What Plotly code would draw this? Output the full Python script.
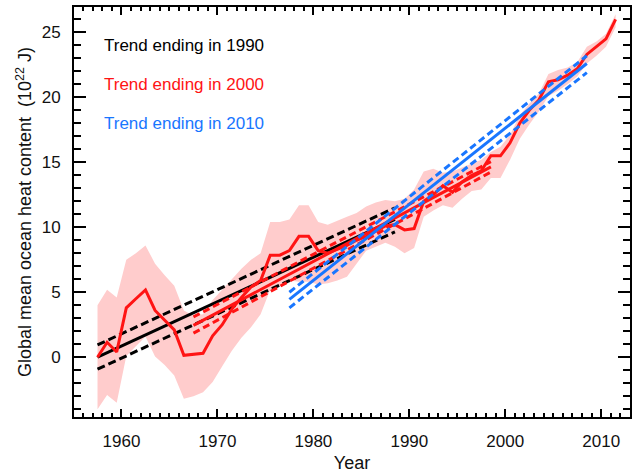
import plotly.graph_objects as go

# Annual global mean ocean heat content (10^22 J), mid-year time stamps
years = [1957.5 + i for i in range(55)]
ohc = [0.0, 1.15, 0.4, 3.8, 4.5, 5.18, 3.6, 2.85, 2.1, 0.15,
       0.2, 0.3, 1.65, 2.5, 3.7, 4.6, 5.4, 5.9, 7.85, 7.85,
       8.2, 9.3, 9.3, 8.2, 8.0, 8.3, 8.6, 9.0, 9.3, 9.7,
       10.1, 10.2, 9.8, 9.9, 12.0, 12.5, 13.2, 12.7, 13.5, 14.0,
       14.35, 15.5, 15.5, 16.5, 18.0, 19.0, 19.8, 21.2, 21.35, 21.7,
       22.2, 23.3, 23.9, 24.5, 26.0]
ohc_upper = [4.0, 5.2, 4.6, 7.5, 8.0, 8.6, 7.2, 6.3, 5.5, 3.6,
             3.2, 3.3, 4.4, 5.2, 6.0, 6.8, 7.5, 8.0, 10.4, 10.4,
             10.6, 11.7, 11.7, 10.4, 10.2, 10.5, 10.8, 11.1, 11.6, 11.9,
             12.1, 12.0, 12.2, 12.9, 14.3, 14.5, 14.2, 14.3, 14.6, 14.9,
             15.2, 15.8, 16.2, 17.1, 18.6, 19.5, 20.3, 21.8, 22.1, 22.3,
             22.7, 23.9, 24.3, 24.9, 26.4]
ohc_lower = [-4.0, -2.9, -3.5, 0.1, 0.85, 1.6, 0.05, -0.6, -1.4, -3.2,
             -3.0, -2.7, -1.9, -0.7, 0.5, 1.5, 2.3, 3.3, 5.2, 5.5,
             5.9, 5.8, 5.8, 5.6, 5.7, 5.9, 6.2, 7.2, 8.2, 8.5,
             8.8, 8.5, 8.0, 8.4, 10.8, 11.3, 11.7, 11.5, 12.2, 12.8,
             12.9, 13.8, 13.8, 15.2, 16.8, 17.9, 18.9, 20.1, 20.5, 21.0,
             21.6, 22.6, 23.2, 23.9, 25.4]

# Linear trends over 31-year windows with their confidence limits
trend_labels = ["Trend ending in 1990", "Trend ending in 2000", "Trend ending in 2010"]
trend_colors = ["#000000", "#FF1414", "#1976FF"]
trend_start = [1957.5, 1967.5, 1977.5]
trend_end = [1988.5, 1998.5, 2008.5]
trend_mid = [(0.0, 10.6), (2.45, 14.65), (4.45, 22.6)]
trend_hi = [(0.95, 11.5), (3.1, 15.05), (5.0, 23.2)]
trend_lo = [(-0.92, 9.65), (1.85, 14.25), (3.8, 21.9)]
trend_dash = ["8px,4px", "7px,4px", "7px,4px"]
label_y = [24, 21, 18]

band_color = "rgb(255,204,204)"
red = "#FF1414"
font = "Liberation Sans, Arial, sans-serif"

fig = go.Figure()

# Uncertainty band
fig.add_trace(go.Scatter(x=years + years[::-1], y=ohc_upper + ohc_lower[::-1],
                         fill="toself", fillcolor=band_color, mode="none",
                         hoverinfo="skip", showlegend=False))

def add_trends(i):
    xs = [trend_start[i], trend_end[i]]
    for ys, dash in ((trend_hi[i], trend_dash[i]), (trend_lo[i], trend_dash[i]),
                     (trend_mid[i], "solid")):
        fig.add_trace(go.Scatter(x=xs, y=list(ys), mode="lines",
                                 line=dict(color=trend_colors[i], width=3, dash=dash),
                                 showlegend=False))

add_trends(0)
add_trends(1)

# Central estimate
fig.add_trace(go.Scatter(x=years, y=ohc, mode="lines",
                         line=dict(color=red, width=3), showlegend=False))

add_trends(2)

for i, txt in enumerate(trend_labels):
    fig.add_annotation(x=1958.0, y=label_y[i], text=txt, showarrow=False,
                       xanchor="left", yanchor="middle",
                       font=dict(family=font, size=17, color=trend_colors[i]))

axis_common = dict(showline=True, linecolor="black", linewidth=2,
                   ticks="inside", tickcolor="black", tickwidth=1.5,
                   showgrid=False, zeroline=False,
                   tickfont=dict(family=font, size=17, color="#111111"))

fig.update_xaxes(range=[1955.05, 2013.0], tickmode="linear", tick0=1960, dtick=10,
                 ticklen=8, mirror="ticks", ticklabelstandoff=8,
                 minor=dict(ticks="inside", dtick=1, ticklen=4, tickcolor="black", tickwidth=1.5),
                 title=dict(text="Year", font=dict(family=font, size=18, color="#111111"),
                            standoff=6),
                 **axis_common)
fig.update_yaxes(range=[-4.6, 26.95], tickmode="linear", tick0=0, dtick=5,
                 ticklen=12, mirror="ticks", ticklabelstandoff=8,
                 minor=dict(ticks="inside", dtick=1, ticklen=7, tickcolor="black", tickwidth=1.5),
                 title=dict(text="Global mean ocean heat content\u00a0\u00a0(10<sup>22</sup> J)",
                            font=dict(family=font, size=18, color="#111111"), standoff=5),
                 **axis_common)

fig.update_layout(width=635, height=473, margin=dict(l=74, r=3, t=7, b=56),
                  plot_bgcolor="white", paper_bgcolor="white")

fig.write_html("out.html")
